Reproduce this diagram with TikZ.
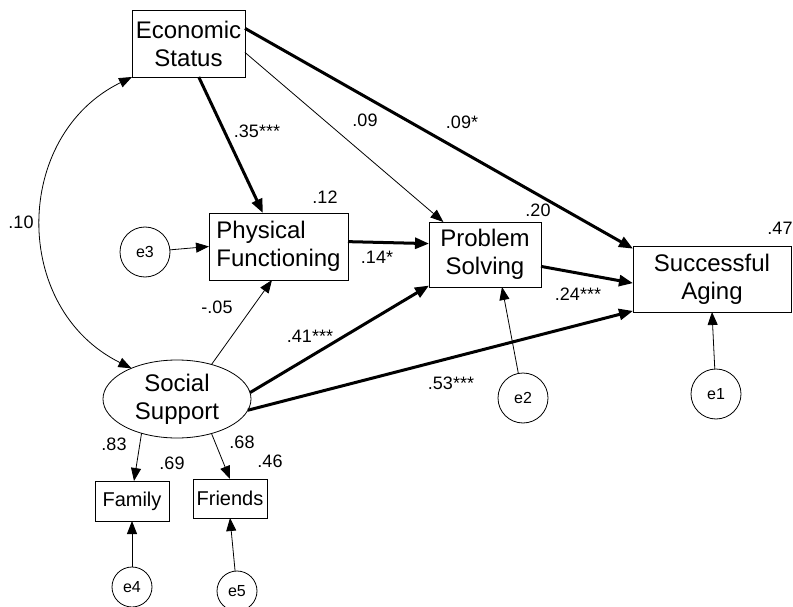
\documentclass[tikz,border=0pt]{standalone}
\usepackage{fontspec}
\setmainfont{Liberation Sans}
\usetikzlibrary{arrows.meta,shapes.geometric}
\begin{document}
\begin{tikzpicture}[x=1pt,y=-1pt,
 box/.style={draw, line width=0.8pt, rectangle, inner sep=0pt, outer sep=0pt, align=center, font=\fontsize{24}{28}\selectfont},
 ind/.style={draw, line width=0.8pt, rectangle, inner sep=0pt, outer sep=0pt, font=\fontsize{20}{24}\selectfont},
 err/.style={draw, line width=0.8pt, circle, inner sep=0pt, outer sep=0pt, font=\fontsize{16}{19}\selectfont},
 lat/.style={draw, line width=0.8pt, ellipse, inner sep=0pt, outer sep=0pt, align=center, font=\fontsize{24}{28}\selectfont},
 coef/.style={inner sep=0pt, font=\fontsize{18}{21}\selectfont},
 thinarr/.style={line width=0.8pt, -{Triangle[length=13pt,width=10pt]}},
 thickarr/.style={line width=3pt, -{Triangle[length=14pt,width=11pt]}},
 covarr/.style={line width=0.8pt, {Triangle[length=13pt,width=10pt]}-{Triangle[length=13pt,width=10pt]}},
]
\useasboundingbox (0,0) rectangle (793,607);

% observed / latent variables
\node[box, minimum width=113pt, minimum height=67pt] (es) at (188.5,43.5) {Economic\\Status};
\node[box, align=left, minimum width=139pt, minimum height=67pt] (pf) at (278.5,246.5) {Physical\\Functioning};
\node[box, minimum width=112pt, minimum height=65pt] (ps) at (485,254.5) {Problem\\Solving};
\node[box, minimum width=158pt, minimum height=66pt] (sa) at (712,279) {Successful\\Aging};
\node[lat, minimum width=148pt, minimum height=78pt] (ss) at (177,399) {Social\\Support};
\node[ind, minimum width=74pt, minimum height=40pt] (fam) at (132,501) {Family};
\node[ind, minimum width=74pt, minimum height=39pt] (fr) at (230,498.5) {Friends};

% error terms
\node[err, minimum size=50pt] (e3) at (145,252) {e3};
\node[err, minimum size=50pt] (e2) at (523,398) {e2};
\node[err, minimum size=50pt] (e1) at (716,394) {e1};
\node[err, minimum size=40pt] (e4) at (132,587) {e4};
\node[err, minimum size=40pt] (e5) at (237,591) {e5};

% paths
\draw[thickarr] (es.-73) -- (pf.115);
\draw[thinarr] (es.-9) -- (ps.142);
\draw[thickarr] (es.15) -- (sa.159);
\draw[thinarr] (e3) -- (pf.west);
\draw[thickarr] (pf.4) -- (ps.169);
\draw[thickarr] (ps.-12) -- (sa.183);
\draw[thinarr] (ss.45) -- (pf.-101);
\draw[thickarr] (ss.5) -- (ps.209);
\draw[thickarr] (ss.-9) -- (sa.202);
\draw[thinarr] (e2) -- ([xshift=17pt]ps.south);
\draw[thinarr] (e1) -- (sa.south);
\draw[thinarr] (ss.-136) -- ([xshift=2pt]fam.north);
\draw[thinarr] (ss.-45) -- (fr.north);
\draw[thinarr] (e4) -- (fam.south);
\draw[thinarr] (e5) -- (fr.south);
\draw[covarr] (es.south west) .. controls (12.6,135.5) and (10.8,308.4) .. (ss.146);

% coefficients
\node[coef] (c1) at (257,131) {.35***};
\node[coef] (c2) at (365,120) {.09};
\node[coef] (c3) at (325,197) {.12};
\node[coef] (c4) at (377,257) {.14*};
\node[coef] (c5) at (21,222) {.10};
\node[coef] (c6) at (462,122) {.09*};
\node[coef] (c7) at (538,210) {.20};
\node[coef] (c8) at (780,228) {.47};
\node[coef] (c9) at (578,294) {.24***};
\node[coef] (c10) at (217,307) {-.05};
\node[coef] (c11) at (310,336) {.41***};
\node[coef] (c12) at (451,383) {.53***};
\node[coef] (c13) at (114,444) {.83};
\node[coef] (c14) at (172,463) {.69};
\node[coef] (c15) at (242,442) {.68};
\node[coef] (c16) at (270,461) {.46};
\end{tikzpicture}
\end{document}
